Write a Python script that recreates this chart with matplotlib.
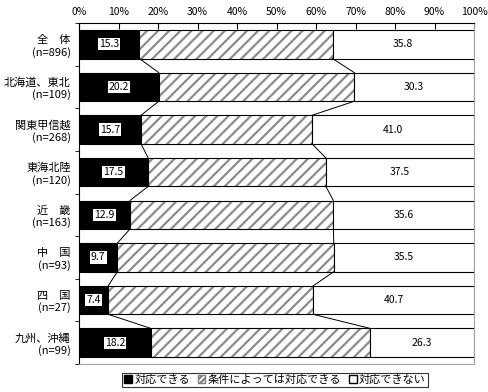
import numpy as np
import matplotlib
matplotlib.use('Agg')
from matplotlib import pyplot as plt
from matplotlib.patches import Patch

plt.rcParams['font.family'] = ['Noto Sans CJK JP', 'DejaVu Sans']

# data
regions = ['全　体\n(n=896)', '北海道、東北\n(n=109)', '関東甲信越\n(n=268)', '東海北陸\n(n=120)',
           '近　畿\n(n=163)', '中　国\n(n=93)', '四　国\n(n=27)', '九州、沖縄\n(n=99)']
can = [15.3, 20.2, 15.7, 17.5, 12.9, 9.7, 7.4, 18.2]
depends = [48.9, 49.5, 43.3, 45.0, 51.5, 54.8, 51.9, 55.5]
cannot = [35.8, 30.3, 41.0, 37.5, 35.6, 35.5, 40.7, 26.3]
series_names = ['対応できる', '条件によっては対応できる', '対応できない']

can = np.array(can)
depends = np.array(depends)
cannot = np.array(cannot)
y = np.arange(len(regions))
h = 0.67

fig = plt.figure(figsize=(4.88, 3.92), dpi=100)
ax = fig.add_axes([79/488, 1-364/392, 395/488, 341/392])

plt.rcParams['hatch.linewidth'] = 1.6
ax.barh(y, can, h, color='black', edgecolor='black', linewidth=0.8, label=series_names[0])
ax.barh(y, depends, h, left=can, color='white', edgecolor='#8c8c8c', hatch='///', linewidth=0)
ax.barh(y, depends, h, left=can, color='none', edgecolor='black', linewidth=0.8)
ax.barh(y, cannot, h, left=can+depends, color='white', edgecolor='black', linewidth=0.8)

# series lines between bars
for edge in [can, can+depends]:
    for i in range(len(y)-1):
        ax.plot([edge[i], edge[i+1]], [y[i]+h/2, y[i+1]-h/2], color='black', lw=0.7)

for i in range(len(y)):
    ax.text(can[i]/2, y[i], f'{can[i]:.1f}', ha='center', va='center', fontsize=7.5,
            bbox=dict(facecolor='white', edgecolor='none', pad=0.8))
    ax.text(can[i]+depends[i]+cannot[i]/2, y[i], f'{cannot[i]:.1f}', ha='center', va='center', fontsize=7.5)

ax.set_xlim(0, 100)
ax.set_ylim(len(y)-0.5, -0.5)
ax.xaxis.tick_top()
ax.set_xticks(np.arange(0, 101, 10))
ax.set_xticklabels([f'{v}%' for v in range(0, 101, 10)], fontsize=7.5)
ax.tick_params(axis='x', direction='in', length=4, pad=4)
ax.set_yticks(np.arange(len(y)+1)-0.5, minor=True)
ax.set_yticks(y)
ax.set_yticklabels(regions, fontsize=8, multialignment='right')
ax.tick_params(axis='y', which='major', length=0, pad=6)
ax.tick_params(axis='y', which='minor', direction='out', length=3)
ax.spines['right'].set_color('#a0a0a0')
ax.spines['bottom'].set_color('#a0a0a0')

handles = [Patch(facecolor='black', edgecolor='black'),
           Patch(facecolor='white', edgecolor='#808080', hatch='//////'),
           Patch(facecolor='white', edgecolor='black')]
leg = fig.legend(handles, series_names, loc='center', bbox_to_anchor=(275/488, 1-380/392), ncol=3,
                 fontsize=8, frameon=True, fancybox=False, handlelength=0.7, handleheight=0.7,
                 handletextpad=0.2, columnspacing=0.7, borderpad=0.2, borderaxespad=0)
leg.get_frame().set_edgecolor('black')
leg.get_frame().set_linewidth(0.8)

fig.savefig('out.png', dpi=100)
